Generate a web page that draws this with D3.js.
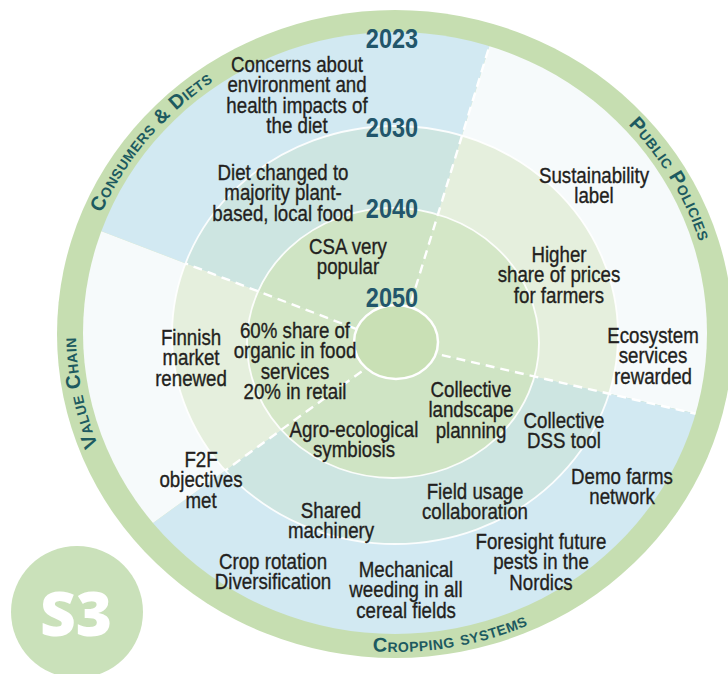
<!DOCTYPE html>
<html><head><meta charset="utf-8">
<script src="https://cdn.jsdelivr.net/npm/d3@7"></script>
<style>
html,body{margin:0;padding:0;background:#fff;}
svg{display:block;}
</style></head><body>
<svg id="chart" width="728" height="674"></svg>
<script>
// ---------------- data ----------------
const years = ["2023", "2030", "2040", "2050"];
const sectors = ["Consumers & Diets", "Public Policies", "Cropping systems", "Value Chain"];
const sectorStartDeg = [291, 17, 103, 234];
const sectorEndDeg = [377, 103, 234, 291];
const sectorTone = ["blue", "white", "blue", "white"];

const itemText = [
  ["Concerns about", "environment and", "health impacts of", "the diet"],
  ["Diet changed to", "majority plant-", "based, local food"],
  ["CSA very", "popular"],
  ["Sustainability", "label"],
  ["Higher", "share of prices", "for farmers"],
  ["Ecosystem", "services", "rewarded"],
  ["Collective", "DSS tool"],
  ["Collective", "landscape", "planning"],
  ["Demo farms", "network"],
  ["Field usage", "collaboration"],
  ["Foresight future", "pests in the", "Nordics"],
  ["Mechanical", "weeding in all", "cereal fields"],
  ["Crop rotation", "Diversification"],
  ["Shared", "machinery"],
  ["Agro-ecological", "symbiosis"],
  ["F2F", "objectives", "met"],
  ["Finnish", "market", "renewed"],
  ["60% share of", "organic in food", "services", "20% in retail"]
];
const itemSector = ["Consumers & Diets", "Consumers & Diets", "Consumers & Diets",
  "Public Policies", "Public Policies", "Public Policies",
  "Cropping systems", "Cropping systems", "Cropping systems", "Cropping systems",
  "Cropping systems", "Cropping systems", "Cropping systems", "Cropping systems", "Cropping systems",
  "Value Chain", "Value Chain", "Value Chain"];
const itemYear = ["2023", "2030", "2040", "2023", "2030", "2023", "2030", "2040", "2023", "2030",
  "2023", "2023", "2023", "2030", "2040", "2023", "2030", "2040"];

const badgeText = "S3";

// ---------------- layout (positions / styles) ----------------
const ringOuter = {cx: 395, cy: 334, rx: 338, ry: 324};
const bandGeom = {
  "2023": {cx: 395, cy: 333, rx: 312, ry: 301},
  "2030": {cx: 395, cy: 335, rx: 223, ry: 209},
  "2040": {cx: 393, cy: 343, rx: 146, ry: 135},
  "2050": {cx: 396, cy: 342, rx: 42, ry: 37}
};
const wedgeCenter = {x: 398, y: 345};
const yearBaseline = {"2023": 48, "2030": 137, "2040": 218, "2050": 307};
const yearX = 392;
const toneColor = {
  blue: {"2023": "#d2e9f2", "2030": "#cde5e1", "2040": "#cfe4c4"},
  white: {"2023": "#f6fafb", "2030": "#e5efdd", "2040": "#d4e7c7"}
};
const discColor = "#c9e0b5";
const ringColor = "#c6deb1";
const dividerReach = ["2030", "2023", "2023", "2030"];
const sectorLabelAngle = [309, 60, 170, 259];
const sectorLabelSpan = [34, 28, 28, 22];
const itemAnchor = [
  [297, 72], [283, 180], [348, 254],
  [594, 183], [559, 262], [653, 343],
  [564, 428], [471, 397], [622, 484], [475, 499], [541, 549], [406, 577], [273, 569], [331, 518], [354, 437],
  [201, 467], [191, 345], [295, 338]
];
const lineHeight = 20.5;
const textSX = 0.85;

// ---------------- drawing ----------------
const svg = d3.select("#chart");
const defs = svg.append("defs");
const angle = d3.scaleLinear().domain([0, 360]).range([0, 2 * Math.PI]);

function ellPoint(e, deg) {
  const a = angle(deg);
  return [e.cx + e.rx * Math.sin(a), e.cy - e.ry * Math.cos(a)];
}

years.forEach(y => {
  const g = bandGeom[y];
  defs.append("clipPath").attr("id", "clip" + y)
    .append("ellipse").attr("cx", g.cx).attr("cy", g.cy).attr("rx", g.rx).attr("ry", g.ry);
});

// S3 badge
svg.append("circle").attr("cx", 77).attr("cy", 612).attr("r", 66).attr("fill", "#cae1ba");
svg.append("text").attr("x", 76).attr("y", 636).attr("text-anchor", "middle")
  .attr("font-family", "'Open Sans', Lato, sans-serif").attr("font-weight", 800)
  .attr("font-size", 62).attr("fill", "#ffffff").text(badgeText);

// outer green ring
svg.append("ellipse").attr("cx", ringOuter.cx).attr("cy", ringOuter.cy)
  .attr("rx", ringOuter.rx).attr("ry", ringOuter.ry).attr("fill", ringColor);

const wedge = d3.arc().innerRadius(0).outerRadius(520);
const sectorData = sectors.map((s, i) => ({name: s, startAngle: angle(sectorStartDeg[i]), endAngle: angle(sectorEndDeg[i]), tone: sectorTone[i]}));

["2023", "2030", "2040"].forEach(y => {
  svg.append("g").attr("clip-path", `url(#clip${y})`)
    .append("g").attr("transform", `translate(${wedgeCenter.x},${wedgeCenter.y})`)
    .selectAll("path").data(sectorData).join("path")
    .attr("d", wedge).attr("fill", d => toneColor[d.tone][y]);
});

// ring boundaries (white)
["2030", "2040"].forEach(y => {
  const g = bandGeom[y];
  svg.append("ellipse").attr("cx", g.cx).attr("cy", g.cy).attr("rx", g.rx).attr("ry", g.ry)
    .attr("fill", "none").attr("stroke", "#ffffff").attr("stroke-width", 1.8).attr("opacity", 0.9);
});

// dashed dividers
sectorStartDeg.forEach((deg, i) => {
  const a = angle(deg);
  svg.append("g").attr("clip-path", `url(#clip${dividerReach[i]})`)
    .append("line")
    .attr("x1", wedgeCenter.x).attr("y1", wedgeCenter.y)
    .attr("x2", wedgeCenter.x + 500 * Math.sin(a)).attr("y2", wedgeCenter.y - 500 * Math.cos(a))
    .attr("stroke", "#ffffff").attr("stroke-width", 2.4).attr("stroke-dasharray", "9,6");
});

// central disc
const dg = bandGeom["2050"];
svg.append("ellipse").attr("cx", dg.cx).attr("cy", dg.cy).attr("rx", dg.rx).attr("ry", dg.ry)
  .attr("fill", discColor).attr("stroke", "#ffffff").attr("stroke-width", 2.5);

// sector labels on the ring
const mid = {cx: ringOuter.cx, cy: (ringOuter.cy + bandGeom["2023"].cy) / 2,
  rx: (ringOuter.rx + bandGeom["2023"].rx) / 2, ry: (ringOuter.ry + bandGeom["2023"].ry) / 2};
sectors.forEach((s, i) => {
  const c = sectorLabelAngle[i], sp = sectorLabelSpan[i];
  const bottom = c > 100 && c < 250;
  const off = bottom ? 6 : -6;
  const e = {cx: mid.cx, cy: mid.cy, rx: mid.rx + off, ry: mid.ry + off};
  const a0 = bottom ? c + sp : c - sp, a1 = bottom ? c - sp : c + sp;
  const p0 = ellPoint(e, a0), p1 = ellPoint(e, a1);
  const id = "lab" + i;
  defs.append("path").attr("id", id)
    .attr("d", `M${p0[0]},${p0[1]} A${e.rx},${e.ry} 0 0 ${bottom ? 0 : 1} ${p1[0]},${p1[1]}`);
  svg.append("text")
    .attr("font-family", "'Liberation Sans', Arial, sans-serif").attr("font-weight", 700)
    .attr("font-size", 20).attr("font-variant", "small-caps").attr("fill", "#1d5a60")
    .attr("letter-spacing", 0.5)
    .append("textPath").attr("href", "#" + id).attr("startOffset", "50%").attr("text-anchor", "middle")
    .text(s);
});

// year labels
svg.selectAll("g.year").data(years).join("g").attr("class", "year")
  .attr("transform", d => `translate(${yearX},${yearBaseline[d]}) scale(0.84,1)`)
  .append("text").attr("text-anchor", "middle")
  .attr("font-family", "'Liberation Sans', Arial, sans-serif")
  .attr("font-weight", 700).attr("font-size", 28).attr("fill", "#22566b").text(d => d);

// item texts
const itemG = svg.append("g")
  .attr("font-family", "'Liberation Sans', Arial, sans-serif")
  .attr("font-size", 22).attr("fill", "#231f20").attr("stroke", "#231f20")
  .attr("stroke-width", 0.35).attr("text-anchor", "middle");
itemText.forEach((lines, i) => {
  const g = itemG.append("g")
    .attr("transform", `translate(${itemAnchor[i][0]},${itemAnchor[i][1]}) scale(${textSX},1)`);
  const t = g.append("text").attr("data-sector", itemSector[i]).attr("data-year", itemYear[i]);
  lines.forEach((ln, j) => {
    t.append("tspan").attr("x", 0).attr("y", j * lineHeight).text(ln);
  });
});
</script>
</body></html>
